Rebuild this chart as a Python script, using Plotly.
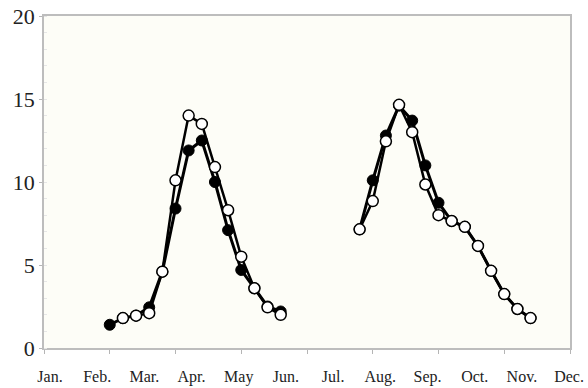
import plotly.graph_objects as go

# sample index (ten-day periods) and values
x_filled = [5, 6, 7, 8, 9, 10, 11, 12, 13, 14, 15, 16, 17, 18, None,
            24, 25, 26, 27, 28, 29, 30, 31, 32, 33, 34, 35, 36, 37]
y_filled = [1.4, 1.8, 1.95, 2.45, 4.6, 8.4, 11.9, 12.5, 10.0, 7.1, 4.7, 3.6, 2.5, 2.2, None,
            7.15, 10.1, 12.8, 14.6, 13.7, 11.0, 8.75, 7.65, 7.3, 6.15, 4.65, 3.25, 2.35, 1.8]

x_open = [6, 7, 8, 9, 10, 11, 12, 13, 14, 15, 16, 17, 18, None,
          24, 25, 26, 27, 28, 29, 30, 31, 32, 33, 34, 35, 36, 37]
y_open = [1.8, 1.95, 2.1, 4.6, 10.1, 14.0, 13.5, 10.9, 8.3, 5.5, 3.6, 2.45, 2.0, None,
          7.15, 8.85, 12.45, 14.65, 13.0, 9.85, 8.0, 7.65, 7.3, 6.15, 4.65, 3.25, 2.35, 1.8]

months = ["Jan.", "Feb.", "Mar.", "Apr.", "May", "Jun.", "Jul.",
          "Aug.", "Sep.", "Oct.", "Nov.", "Dec."]
y_ticks = [0, 5, 10, 15, 20]

fig = go.Figure()
fig.add_trace(go.Scatter(
    x=x_filled, y=y_filled, mode="lines+markers",
    line=dict(color="black", width=3),
    marker=dict(symbol="circle", size=11, color="black",
                line=dict(color="black", width=1)),
    connectgaps=False, showlegend=False))
fig.add_trace(go.Scatter(
    x=x_open, y=y_open, mode="lines+markers",
    line=dict(color="black", width=2.5),
    marker=dict(symbol="circle", size=11, color="white",
                line=dict(color="black", width=1.5)),
    connectgaps=False, showlegend=False))
# invisible trace to activate the month-label axis
fig.add_trace(go.Scatter(x=[0], y=[None], xaxis="x2", showlegend=False,
                         hoverinfo="skip", mode="markers"))

fig.update_layout(
    width=588, height=388,
    margin=dict(l=44, r=18, t=16, b=40),
    paper_bgcolor="white",
    plot_bgcolor="#fdfdf7",
    font=dict(family="Liberation Serif", color="#222"),
    xaxis=dict(range=[0, 40], tickvals=[0, 5, 10, 15, 20, 25, 30, 35, 40],
               showticklabels=False, ticks="outside", ticklen=4,
               tickcolor="#b5b5b5", showgrid=False, zeroline=False,
               showline=True, linecolor="#bdbdbd", linewidth=1.5, mirror=True,
               automargin=False),
    xaxis2=dict(overlaying="x", anchor="y", side="bottom",
                range=[-0.127, 11.02], tickvals=list(range(12)), ticktext=months,
                ticks="", showgrid=False, zeroline=False, showline=False,
                tickfont=dict(size=16, family="Liberation Serif", color="#222"),
                ticklabelstandoff=17, automargin=False),
    yaxis=dict(range=[0, 20], tickvals=y_ticks, ticks="outside", ticklen=3,
               tickcolor="#b5b5b5",
               tickfont=dict(size=22, family="Liberation Serif", color="#222"),
               showgrid=False, zeroline=False, automargin=False,
               showline=True, linecolor="#bdbdbd", linewidth=1.5, mirror=True,
               minor=dict(dtick=1, ticks="inside", ticklen=3, tickcolor="#e6e6e6",
                          showgrid=False)),
)

fig.write_html("out.html")
